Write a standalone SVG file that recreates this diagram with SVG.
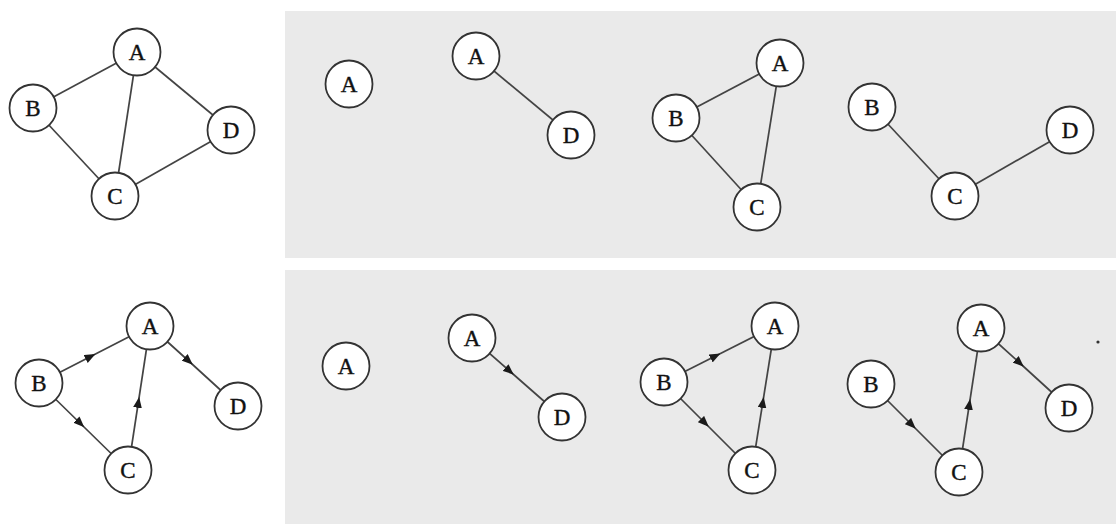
<svg xmlns="http://www.w3.org/2000/svg" width="1116" height="524" viewBox="0 0 1116 524">
<style>
.bg{fill:#eaeaea}
.node circle{fill:#ffffff;stroke:#333;stroke-width:1.8}
.node text{font-family:"Liberation Serif","Times New Roman",serif;font-size:23px;fill:#111;stroke:#111;stroke-width:0.4;text-anchor:middle}
.edges path,.edges line{stroke:#444;stroke-width:1.7;fill:none}
.arr{marker-mid:url(#ah)}
</style>
<defs>
<marker id="ah" viewBox="0 0 10 8" refX="9" refY="4" markerWidth="11" markerHeight="9" markerUnits="userSpaceOnUse" orient="auto">
<path d="M0,0 L10,4 L0,8 z" fill="#1a1a1a"/>
</marker>
</defs>
<rect width="1116" height="524" fill="#ffffff"/>
<rect class="bg" x="285" y="11" width="831" height="247"/>
<rect class="bg" x="285" y="270" width="831" height="254"/>
<circle cx="1098" cy="342" r="1.6" fill="#333"/>
<g class="edges">
<line x1="137" y1="52" x2="33" y2="108"/>
<line x1="137" y1="52" x2="115" y2="196"/>
<line x1="137" y1="52" x2="231" y2="130"/>
<line x1="33" y1="108" x2="115" y2="196"/>
<line x1="115" y1="196" x2="231" y2="130"/>
<line x1="476" y1="56" x2="571" y2="135"/>
<line x1="780" y1="63" x2="676" y2="118"/>
<line x1="780" y1="63" x2="757" y2="207"/>
<line x1="676" y1="118" x2="757" y2="207"/>
<line x1="872" y1="107" x2="955" y2="196"/>
<line x1="955" y1="196" x2="1070" y2="130"/>
<path class="arr" d="M39,383 L94.5,354.5 L150,326"/>
<path class="arr" d="M150,326 L192,364 L238,406"/>
<path class="arr" d="M39,383 L83.5,426.5 L128,470"/>
<path class="arr" d="M128,470 L139,398 L150,326"/>
<path class="arr" d="M472,338 L513,374 L562,417"/>
<path class="arr" d="M664,382 L719.5,354 L775,326"/>
<path class="arr" d="M664,382 L708,426 L752,470"/>
<path class="arr" d="M752,470 L763.5,398 L775,326"/>
<path class="arr" d="M871,384 L915,428 L959,472"/>
<path class="arr" d="M959,472 L970,400 L981,328"/>
<path class="arr" d="M981,328 L1023,366 L1069,408"/>
</g>
<g id="tl-A" class="node"><circle cx="137" cy="52" r="23.5"/><text x="137" y="60">A</text></g>
<g id="tl-B" class="node"><circle cx="33" cy="108" r="23.5"/><text x="33" y="116">B</text></g>
<g id="tl-C" class="node"><circle cx="115" cy="196" r="23.5"/><text x="115" y="204">C</text></g>
<g id="tl-D" class="node"><circle cx="231" cy="130" r="23.5"/><text x="231" y="138">D</text></g>

<g id="t1-A" class="node"><circle cx="349" cy="84" r="23.5"/><text x="349" y="92">A</text></g>
<g id="t2-A" class="node"><circle cx="476" cy="56" r="23.5"/><text x="476" y="64">A</text></g>
<g id="t2-D" class="node"><circle cx="571" cy="135" r="23.5"/><text x="571" y="143">D</text></g>
<g id="t3-A" class="node"><circle cx="780" cy="63" r="23.5"/><text x="780" y="71">A</text></g>
<g id="t3-B" class="node"><circle cx="676" cy="118" r="23.5"/><text x="676" y="126">B</text></g>
<g id="t3-C" class="node"><circle cx="757" cy="207" r="23.5"/><text x="757" y="215">C</text></g>
<g id="t4-B" class="node"><circle cx="872" cy="107" r="23.5"/><text x="872" y="115">B</text></g>
<g id="t4-C" class="node"><circle cx="955" cy="196" r="23.5"/><text x="955" y="204">C</text></g>
<g id="t4-D" class="node"><circle cx="1070" cy="130" r="23.5"/><text x="1070" y="138">D</text></g>

<g id="bl-A" class="node"><circle cx="150" cy="326" r="23.5"/><text x="150" y="334">A</text></g>
<g id="bl-B" class="node"><circle cx="39" cy="383" r="23.5"/><text x="39" y="391">B</text></g>
<g id="bl-C" class="node"><circle cx="128" cy="470" r="23.5"/><text x="128" y="478">C</text></g>
<g id="bl-D" class="node"><circle cx="238" cy="406" r="23.5"/><text x="238" y="414">D</text></g>

<g id="b1-A" class="node"><circle cx="346" cy="366" r="23.5"/><text x="346" y="374">A</text></g>
<g id="b2-A" class="node"><circle cx="472" cy="338" r="23.5"/><text x="472" y="346">A</text></g>
<g id="b2-D" class="node"><circle cx="562" cy="417" r="23.5"/><text x="562" y="425">D</text></g>
<g id="b3-A" class="node"><circle cx="775" cy="326" r="23.5"/><text x="775" y="334">A</text></g>
<g id="b3-B" class="node"><circle cx="664" cy="382" r="23.5"/><text x="664" y="390">B</text></g>
<g id="b3-C" class="node"><circle cx="752" cy="470" r="23.5"/><text x="752" y="478">C</text></g>
<g id="b4-A" class="node"><circle cx="981" cy="328" r="23.5"/><text x="981" y="336">A</text></g>
<g id="b4-B" class="node"><circle cx="871" cy="384" r="23.5"/><text x="871" y="392">B</text></g>
<g id="b4-C" class="node"><circle cx="959" cy="472" r="23.5"/><text x="959" y="480">C</text></g>
<g id="b4-D" class="node"><circle cx="1069" cy="408" r="23.5"/><text x="1069" y="416">D</text></g>
</svg>
